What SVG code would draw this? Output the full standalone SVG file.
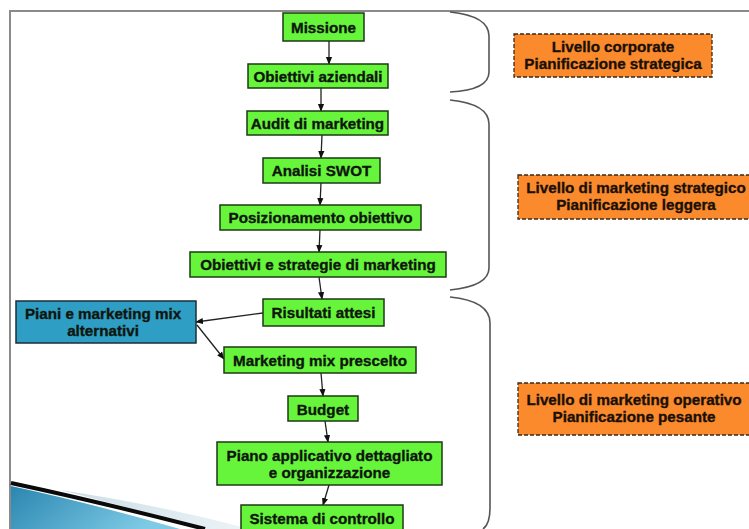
<svg xmlns="http://www.w3.org/2000/svg" width="749" height="529" viewBox="0 0 749 529">
  <style>
    .step rect { fill: #66f53a; stroke: #1c3a14; stroke-width: 1.5; }
    .alt rect { fill: #2f9ec4; stroke: #1c2e3a; stroke-width: 1.5; }
    .level rect { fill: #fb8a2c; stroke: #3a2a1a; stroke-width: 1.3; stroke-dasharray: 4 2; }
    text { font-family: "Liberation Sans", Arial, sans-serif; font-weight: bold; font-size: 15.2px; fill: #0e160e; stroke: #0e160e; stroke-width: 0.35; text-anchor: middle; }
    .level text { fill: #1a1008; stroke: #1a1008; }
    .conn line { stroke: #222; stroke-width: 1.3; fill: none; marker-end: url(#head); }
    .brace { stroke: #555; stroke-width: 1.6; fill: none; }
  </style>
  <defs>
    <marker id="head" viewBox="0 0 10 10" refX="9" refY="5" markerWidth="6" markerHeight="6" orient="auto">
      <path d="M0,1 L10,5 L0,9 z" fill="#111"/>
    </marker>
    <linearGradient id="swoosh" x1="0" y1="0" x2="1" y2="0.3">
      <stop offset="0" stop-color="#2a86b0"/>
      <stop offset="1" stop-color="#7fcbe6"/>
    </linearGradient>
    <linearGradient id="haze" x1="0" y1="0" x2="1" y2="0">
      <stop offset="0" stop-color="#c9dde6"/>
      <stop offset="1" stop-color="#eef4f7"/>
    </linearGradient>
  </defs>

  <!-- background and frame -->
  <rect width="749" height="529" fill="#ffffff"/>
  <path d="M10,529 V11 H749" fill="none" stroke="#8a8a8a" stroke-width="2"/>

  <!-- lower-left template swoosh -->
  <g id="swoosh-deco">
    <path d="M60,490 Q160,505 250,529 L205,529 Q120,505 60,490 z" fill="url(#haze)"/>
    <path d="M11,486 Q90,503 180,529 L11,529 z" fill="url(#swoosh)"/>
    <path d="M11,483 Q100,502 205,529" fill="none" stroke="#0a0a0a" stroke-width="4"/>
  </g>

  <!-- level braces -->
  <g id="braces">
    <path class="brace" d="M450,12 Q489,16 489,36 V72 Q489,90 450,92"/>
    <path class="brace" d="M450,100 Q489,104 489,124 V268 Q489,286 450,290"/>
    <path class="brace" d="M450,297 Q490,301 490,323 V508 Q490,524 483,529"/>
  </g>

  <!-- connectors -->
  <g class="conn" id="connectors">
    <line x1="329" y1="41" x2="329" y2="64"/>
    <line x1="321" y1="88" x2="321" y2="111"/>
    <line x1="322" y1="135" x2="321" y2="158"/>
    <line x1="321" y1="183" x2="320" y2="205"/>
    <line x1="320" y1="230" x2="319" y2="252"/>
    <line x1="319" y1="277" x2="322" y2="299"/>
    <line x1="263" y1="313" x2="196" y2="322"/>
    <line x1="197" y1="325" x2="224" y2="359"/>
    <line x1="321" y1="373" x2="323" y2="396"/>
    <line x1="325" y1="421" x2="328" y2="442"/>
    <line x1="329" y1="485" x2="323" y2="505"/>
  </g>

  <!-- process steps -->
  <g id="missione" class="step">
    <rect x="283" y="13" width="81" height="28"/>
    <text x="323.5" y="32.5">Missione</text>
  </g>
  <g id="obiettivi-aziendali" class="step">
    <rect x="248" y="64" width="140" height="24"/>
    <text x="318" y="81.5">Obiettivi aziendali</text>
  </g>
  <g id="audit" class="step">
    <rect x="247" y="111" width="141" height="24"/>
    <text x="317.5" y="128.5">Audit di marketing</text>
  </g>
  <g id="swot" class="step">
    <rect x="263" y="158" width="117" height="25"/>
    <text x="321.5" y="176">Analisi SWOT</text>
  </g>
  <g id="posizionamento" class="step">
    <rect x="220" y="205" width="201" height="25"/>
    <text x="320.5" y="223">Posizionamento obiettivo</text>
  </g>
  <g id="obiettivi-strategie" class="step">
    <rect x="190" y="252" width="256" height="25"/>
    <text x="318" y="270">Obiettivi e strategie di marketing</text>
  </g>
  <g id="risultati" class="step">
    <rect x="263" y="299" width="121" height="27"/>
    <text x="323.5" y="318">Risultati attesi</text>
  </g>
  <g id="piani-alternativi" class="alt">
    <rect x="16" y="301" width="180" height="42"/>
    <text x="103" y="318.5">Piani e marketing mix</text>
    <text x="103" y="335.5">alternativi</text>
  </g>
  <g id="mix-prescelto" class="step">
    <rect x="224" y="347" width="192" height="26"/>
    <text x="320" y="365.5">Marketing mix prescelto</text>
  </g>
  <g id="budget" class="step">
    <rect x="288" y="396" width="70" height="25"/>
    <text x="323" y="414.5">Budget</text>
  </g>
  <g id="piano-applicativo" class="step">
    <rect x="217" y="442" width="225" height="43"/>
    <text x="329.5" y="460.5">Piano applicativo dettagliato</text>
    <text x="329.5" y="477.5">e organizzazione</text>
  </g>
  <g id="sistema-controllo" class="step">
    <rect x="241" y="505" width="162" height="26"/>
    <text x="322" y="523.5">Sistema di controllo</text>
  </g>

  <!-- planning level labels -->
  <g id="livello-corporate" class="level">
    <rect x="514" y="34" width="198" height="43"/>
    <text x="613" y="52">Livello corporate</text>
    <text x="613" y="69">Pianificazione strategica</text>
  </g>
  <g id="livello-strategico" class="level">
    <rect x="518" y="175" width="240" height="44"/>
    <text x="636" y="193">Livello di marketing strategico</text>
    <text x="636" y="210">Pianificazione leggera</text>
  </g>
  <g id="livello-operativo" class="level">
    <rect x="518" y="383" width="240" height="52"/>
    <text x="634" y="405">Livello di marketing operativo</text>
    <text x="634" y="422">Pianificazione pesante</text>
  </g>
</svg>
